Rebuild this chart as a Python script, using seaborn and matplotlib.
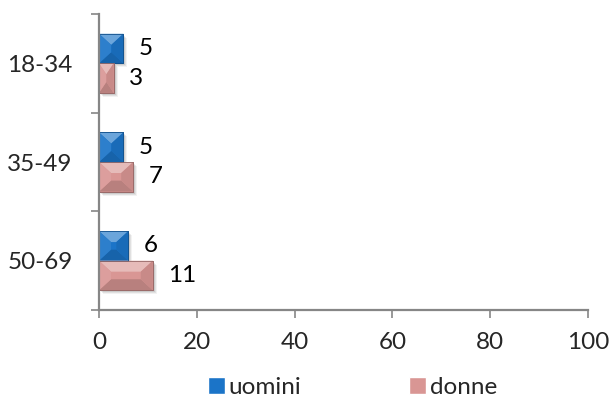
import numpy as np
import pandas as pd
import matplotlib
matplotlib.use("Agg")
import matplotlib.pyplot as plt
from matplotlib.patches import Polygon, Rectangle
from matplotlib.colors import to_rgb
import seaborn as sns

# Age groups and counts per gender
age_groups = ["18-34", "35-49", "50-69"]
uomini = [5, 5, 6]
donne = [3, 7, 11]
series_names = ["uomini", "donne"]
x_ticks = [0, 20, 40, 60, 80, 100]

df = pd.DataFrame({
    "fascia": age_groups * 2,
    "valore": uomini + donne,
    "genere": [series_names[0]] * len(age_groups) + [series_names[1]] * len(age_groups),
})

sns.set_theme(style="white")
plt.rcParams["font.family"] = ["Lato", "DejaVu Sans"]
FS = 17.5

palette = {"uomini": "#1B74C8", "donne": "#D99694"}
axis_gray = "#868686"

fig = plt.figure(figsize=(6.1, 4.0), dpi=100)
ax = fig.add_axes([99 / 610, 1 - 310 / 400, 489 / 610, 296 / 400])

sns.barplot(data=df, y="fascia", x="valore", hue="genere", order=age_groups,
            hue_order=series_names, palette=palette, orient="h", width=0.6,
            saturation=1, legend=True, ax=ax)

ax.set_xlim(0, 100)
ax.set_ylim(len(age_groups) - 0.5, -0.5)

# pixel scale for bevel / shadow sizes
px_x = 489 / 100.0
px_y = 296 / len(age_groups)


def shade(c, f):
    r, g, b = to_rgb(c)
    if f >= 0:
        return (r + (1 - r) * f, g + (1 - g) * f, b + (1 - b) * f)
    return (r * (1 + f), g * (1 + f), b * (1 + f))


bars = [p for p in ax.patches if isinstance(p, Rectangle) and p.get_width() > 0]
for p in bars:
    base = p.get_facecolor()[:3]
    x0 = p.get_x()
    x1 = x0 + p.get_width()
    yt = p.get_y()
    yb = yt + p.get_height()
    # soft drop shadow
    for k, a in zip([4, 3, 2], [0.05, 0.07, 0.09]):
        ax.add_patch(Rectangle((x0 + k / px_x, yt + k / px_y), x1 - x0, yb - yt,
                               facecolor="black", alpha=a, edgecolor="none", zorder=1.5))
    p.set_zorder(2)
    p.set_edgecolor(shade(base, -0.25))
    p.set_linewidth(0.6)
    dx = min(12 / px_x, (x1 - x0) / 2)
    dy = min(11 / px_y, (yb - yt) / 2)
    facets = [
        ([(x0, yt), (x1, yt), (x1 - dx, yt + dy), (x0 + dx, yt + dy)], 0.35),
        ([(x0, yb), (x1, yb), (x1 - dx, yb - dy), (x0 + dx, yb - dy)], -0.15),
        ([(x0, yt), (x0 + dx, yt + dy), (x0 + dx, yb - dy), (x0, yb)], 0.08),
        ([(x1, yt), (x1 - dx, yt + dy), (x1 - dx, yb - dy), (x1, yb)], -0.08),
    ]
    for pts, f in facets:
        ax.add_patch(Polygon(pts, closed=True, facecolor=shade(base, f),
                             edgecolor="none", zorder=2.1))
    ax.add_patch(Rectangle((x0, yt), x1 - x0, yb - yt, facecolor="none",
                           edgecolor=shade(base, -0.3), linewidth=0.6, zorder=2.2))

for cont in ax.containers:
    ax.bar_label(cont, labels=[f"{int(v)}" for v in cont.datavalues],
                 padding=11, fontsize=FS, color="black")

# category axis: ticks on group boundaries, labels at group centres
ax.set_yticks(np.arange(-0.5, len(age_groups), 1.0))
ax.set_yticklabels([])
ax.set_yticks(np.arange(len(age_groups)), minor=True)
ax.set_yticklabels(age_groups, minor=True, fontsize=FS)
ax.tick_params(axis="y", which="major", length=6, width=1.2, color=axis_gray, left=True)
ax.tick_params(axis="y", which="minor", length=0, pad=19)

ax.set_xticks(x_ticks)
ax.set_xticklabels([str(v) for v in x_ticks], fontsize=FS)
ax.tick_params(axis="x", length=6, width=1.2, color=axis_gray, bottom=True, pad=10)

for s in ["top", "right"]:
    ax.spines[s].set_visible(False)
for s in ["left", "bottom"]:
    ax.spines[s].set_color(axis_gray)
    ax.spines[s].set_linewidth(1.6)

ax.set_xlabel("")
ax.set_ylabel("")

handles, labels = ax.get_legend_handles_labels()
ax.get_legend().remove()
leg = fig.legend(handles, labels, loc="center", bbox_to_anchor=(0.578, 0.032),
                 ncol=2, frameon=False, fontsize=FS, handlelength=0.7,
                 handleheight=0.7, handletextpad=0.15, columnspacing=4.45,
                 borderpad=0.1)

fig.savefig("out.png", dpi=100)
